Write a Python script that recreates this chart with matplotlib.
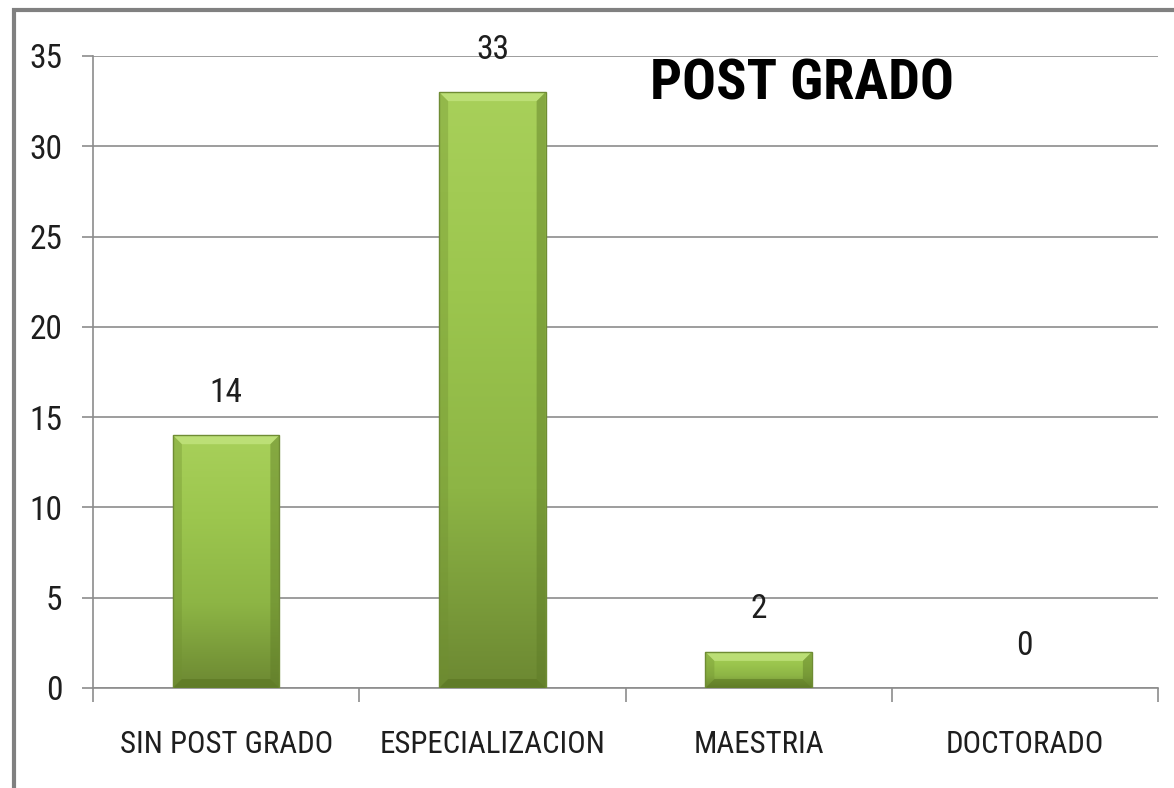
import numpy as np
import matplotlib.pyplot as plt
from matplotlib.colors import LinearSegmentedColormap
from matplotlib.patches import Rectangle, Polygon
from matplotlib import font_manager

categories = ["SIN POST GRADO", "ESPECIALIZACION", "MAESTRIA", "DOCTORADO"]
values = [14, 33, 2, 0]
yticks = [0, 5, 10, 15, 20, 25, 30, 35]

fonts = font_manager.fontManager.ttflist
names = {f.name for f in fonts}
narrow = [n for n in ["Liberation Sans Narrow", "Roboto Condensed", "Open Sans Condensed"] if n in names]
if narrow:
    plt.rcParams["font.family"] = [narrow[0], "DejaVu Sans"]
else:
    plt.rcParams["font.family"] = ["DejaVu Sans"]
    if any(f.name == "DejaVu Sans" and f.stretch in ("condensed", "semi-condensed", 87.5, 75) for f in fonts):
        plt.rcParams["font.stretch"] = "condensed"

fig = plt.figure(figsize=(11.74, 7.88), dpi=100)
ax = fig.add_axes([93 / 1174, 1 - 688 / 788, (1158 - 93) / 1174, (688 - 56) / 788])

grid_c = "#8c8c8c"
txt_c = "#1e1e1e"
x = np.arange(len(categories))
ax.set_xlim(-0.5, len(categories) - 0.5)
ax.set_ylim(0, 35)

bars = ax.bar(x, values, width=0.4, color="none", edgecolor="none", zorder=3)

# pixel -> data size of the bevel
px_x = (len(categories)) / (1158 - 93)
px_y = 35 / (688 - 56)
bev = 9

cmap = LinearSegmentedColormap.from_list("grn", ["#a8d05a", "#9cc64e", "#8db545", "#6c8832"])
grad = np.linspace(0, 1, 256).reshape(-1, 1)
for b in bars:
    h = b.get_height()
    if h <= 0:
        continue
    x0, x1 = b.get_x(), b.get_x() + b.get_width()
    clip = Rectangle((x0, 0), x1 - x0, h, transform=ax.transData)
    im = ax.imshow(grad, cmap=cmap, aspect="auto", zorder=3.5,
                   extent=(x0, x1, 0, h), origin="upper")
    im.set_clip_path(clip)
    bx, by = bev * px_x, min(bev * px_y, h / 2)
    # bevel: light top, darker sides, dark bottom
    ax.add_patch(Polygon([(x0, h), (x1, h), (x1 - bx, h - by), (x0 + bx, h - by)],
                         closed=True, facecolor="#c2e47e", edgecolor="none", alpha=0.8, zorder=3.6))
    ax.add_patch(Polygon([(x0, 0), (x0, h), (x0 + bx, h - by), (x0 + bx, by)],
                         closed=True, facecolor="#6f8f30", edgecolor="none", alpha=0.35, zorder=3.6))
    ax.add_patch(Polygon([(x1, 0), (x1, h), (x1 - bx, h - by), (x1 - bx, by)],
                         closed=True, facecolor="#5d7a26", edgecolor="none", alpha=0.45, zorder=3.6))
    ax.add_patch(Polygon([(x0, 0), (x1, 0), (x1 - bx, by), (x0 + bx, by)],
                         closed=True, facecolor="#56711f", edgecolor="none", alpha=0.5, zorder=3.6))
    ax.add_patch(Rectangle((x0, 0), x1 - x0, h, fill=False,
                           edgecolor="#6f8c34", linewidth=1.0, zorder=4))

for xi, v in zip(x, values):
    ax.text(xi, v + 2.35, str(v), ha="center", va="center", fontsize=24, color=txt_c, zorder=5)

ax.set_yticks(yticks)
ax.set_yticklabels([str(t) for t in yticks], fontsize=24, color=txt_c)
ax.set_xticks(x)
ax.set_xticklabels(categories, fontsize=22, color=txt_c)
ax.tick_params(axis="x", length=0, pad=30)
ax.set_xticks(np.arange(-0.5, len(categories)), minor=True)
ax.tick_params(axis="x", which="minor", length=10, color=grid_c, width=1.2)
ax.tick_params(axis="y", length=8, color=grid_c, width=1.2, pad=14)

ax.yaxis.grid(True, color=grid_c, linewidth=1.2, zorder=0)
ax.set_axisbelow(True)
for s in ["top", "right"]:
    ax.spines[s].set_visible(False)
for s in ["left", "bottom"]:
    ax.spines[s].set_color(grid_c)
    ax.spines[s].set_linewidth(1.2)

title = ax.text((650 + 953) / 2 / 1174, 1 - 85 / 788, "POST GRADO", transform=fig.transFigure,
                ha="center", va="center", fontsize=40, fontweight="bold", color="black", zorder=6)

# fit text widths to the reference
fig.canvas.draw()
r = fig.canvas.get_renderer()
w = title.get_window_extent(r).width
title.set_fontsize(40 * 303 / w)
lab = ax.get_xticklabels()
w = lab[0].get_window_extent(r).width
fs = 22 * 213 / w
for t in lab:
    t.set_fontsize(fs)

fig.patches.append(Rectangle((14 / 1174, -0.1), 1.2, 1 - 10 / 788 + 0.1, transform=fig.transFigure,
                             fill=False, edgecolor="#808080", linewidth=3))

fig.savefig("out.png", dpi=100)
